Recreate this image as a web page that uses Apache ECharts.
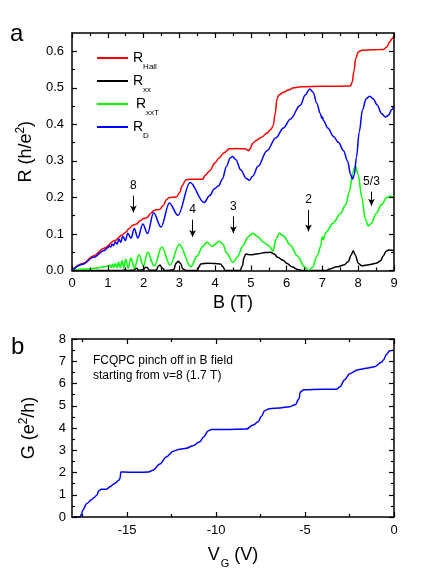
<!DOCTYPE html>
<html><head><meta charset="utf-8">
<script src="https://cdn.jsdelivr.net/npm/echarts@6/dist/echarts.min.js"></script>
<style>html,body{margin:0;padding:0;background:#fff}#c{width:436px;height:577px}</style>
</head><body><div id="c"></div>
<script>
const FONT = '"Liberation Sans", Arial, Helvetica, sans-serif';

// ---- Panel a: R vs B ----
const hallData = [[0,0],[0.3,0.019],[0.6,0.04],[0.9,0.061],[1.2,0.082],[1.4,0.097],[1.5,0.105],[1.6,0.115],[1.7,0.124],[1.8,0.127],[1.9,0.136],[2.0,0.142],[2.1,0.145],[2.2,0.157],[2.3,0.165],[2.45,0.167],[2.55,0.178],[2.65,0.195],[2.72,0.2],[2.92,0.201],[3.0,0.212],[3.08,0.232],[3.18,0.248],[3.3,0.25],[3.65,0.25],[3.72,0.26],[3.85,0.273],[4.0,0.295],[4.1,0.307],[4.25,0.322],[4.4,0.333],[4.6,0.334],[4.85,0.333],[4.93,0.328],[4.98,0.333],[5.05,0.348],[5.15,0.356],[5.3,0.365],[5.45,0.376],[5.55,0.385],[5.62,0.395],[5.68,0.43],[5.73,0.47],[5.78,0.48],[5.9,0.487],[6.05,0.494],[6.2,0.5],[6.4,0.503],[7.0,0.504],[7.78,0.505],[7.83,0.515],[7.88,0.545],[7.93,0.58],[8.0,0.598],[8.1,0.603],[8.4,0.604],[8.7,0.605],[8.8,0.612],[8.88,0.626],[8.95,0.635],[9.0,0.642]];
const rxxData = [[0,0],[1.4,0],[1.48,0.002],[1.55,0],[1.72,0.001],[1.8,0.006],[1.87,0.001],[2.0,0.002],[2.05,0.009],[2.1,0.008],[2.16,0.001],[2.35,0.001],[2.42,0.012],[2.46,0.015],[2.52,0.007],[2.6,0],[2.84,0.002],[2.91,0.02],[2.97,0.025],[3.03,0.02],[3.1,0.004],[3.2,0],[3.5,0],[3.55,0.01],[3.6,0.018],[3.8,0.02],[4.0,0.019],[4.15,0.018],[4.22,0.01],[4.28,0],[4.7,0],[4.76,0.012],[4.81,0.036],[4.86,0.045],[5.0,0.043],[5.2,0.046],[5.4,0.049],[5.55,0.05],[5.65,0.045],[5.75,0.036],[5.9,0.028],[6.0,0.02],[6.15,0.01],[6.3,0.003],[6.45,0],[7.1,0],[7.2,0.004],[7.4,0.01],[7.6,0.015],[7.72,0.024],[7.8,0.042],[7.86,0.054],[7.92,0.042],[8.0,0.02],[8.1,0.013],[8.3,0.016],[8.5,0.02],[8.62,0.026],[8.7,0.04],[8.78,0.053],[8.85,0.056],[9.0,0.055]];
const rxxTData = [[0,0],[0.4,0.004],[0.7,0.007],[0.9,0.01],[1.0,0.012],[1.05,0.015],[1.09,0.008],[1.13,0.017],[1.17,0.008],[1.21,0.019],[1.26,0.008],[1.3,0.023],[1.35,0.008],[1.4,0.027],[1.45,0.007],[1.5,0.031],[1.57,0.006],[1.65,0.034],[1.74,0.006],[1.875,0.043],[2.0,0.012],[2.11,0.05],[2.3,0.012],[2.51,0.064],[2.74,0.015],[3.0,0.072],[3.32,0.01],[3.5,0.04],[3.65,0.066],[3.77,0.077],[3.92,0.066],[4.12,0.08],[4.22,0.072],[4.32,0.048],[4.5,0.022],[4.62,0.037],[4.78,0.068],[4.92,0.092],[5.05,0.102],[5.2,0.092],[5.35,0.077],[5.5,0.068],[5.62,0.053],[5.7,0.085],[5.79,0.102],[5.9,0.096],[6.1,0.07],[6.3,0.04],[6.5,0.01],[6.61,0.0],[6.72,0.008],[6.85,0.04],[6.96,0.068],[6.98,0.088],[7.0,0.092],[7.02,0.085],[7.1,0.105],[7.3,0.13],[7.5,0.155],[7.65,0.18],[7.75,0.215],[7.85,0.268],[7.92,0.286],[8.0,0.262],[8.1,0.2],[8.2,0.14],[8.28,0.122],[8.36,0.128],[8.5,0.155],[8.65,0.18],[8.8,0.2],[8.9,0.203],[9.0,0.198]];
const rdData = [[0,0],[0.3,0.017],[0.6,0.036],[0.9,0.055],[1.0,0.062],[1.04,0.067],[1.08,0.064],[1.12,0.072],[1.16,0.068],[1.21,0.079],[1.26,0.072],[1.31,0.086],[1.36,0.077],[1.42,0.094],[1.49,0.082],[1.56,0.102],[1.65,0.088],[1.74,0.115],[1.84,0.089],[1.98,0.127],[2.11,0.101],[2.28,0.158],[2.49,0.119],[2.72,0.185],[2.96,0.151],[3.3,0.241],[3.69,0.186],[3.85,0.205],[3.98,0.224],[4.1,0.232],[4.2,0.25],[4.32,0.285],[4.42,0.308],[4.49,0.312],[4.58,0.303],[4.72,0.275],[4.87,0.252],[4.96,0.247],[5.05,0.258],[5.2,0.285],[5.45,0.328],[5.7,0.363],[5.91,0.39],[6.1,0.414],[6.38,0.452],[6.52,0.48],[6.64,0.497],[6.74,0.488],[6.84,0.458],[6.94,0.43],[6.98,0.417],[7.0,0.42],[7.03,0.41],[7.15,0.39],[7.31,0.367],[7.45,0.35],[7.59,0.328],[7.7,0.3],[7.79,0.262],[7.84,0.25],[7.89,0.262],[7.95,0.31],[8.03,0.38],[8.12,0.44],[8.22,0.47],[8.32,0.477],[8.42,0.47],[8.53,0.453],[8.65,0.43],[8.76,0.42],[8.85,0.425],[8.93,0.44],[9.0,0.45]];

const arrowB = [1.716, 3.37, 4.51, 6.61, 8.37];
const arrowTop = [0.205, 0.139, 0.148, 0.166, 0.216];
const arrowBottom = [0.159, 0.092, 0.102, 0.107, 0.177];
const arrowLabel = ['8', '4', '3', '2', '5/3'];

const bTicks = [0,1,2,3,4,5,6,7,8,9];
const bMinor = [0.5,1.5,2.5,3.5,4.5,5.5,6.5,7.5,8.5];
const rTicks = [0,0.1,0.2,0.3,0.4,0.5,0.6];
const rMinor = [0.05,0.15,0.25,0.35,0.45,0.55];

// ---- Panel b: G vs VG ----
const gData = [[-18.1,0],[-17.65,0],[-17.55,0.15],[-17.5,0.3],[-17.28,0.6],[-17.0,0.78],[-16.9,0.85],[-16.7,0.98],[-16.6,1.18],[-16.45,1.25],[-16.15,1.25],[-15.97,1.36],[-15.7,1.51],[-15.45,1.66],[-15.4,1.75],[-15.35,2.02],[-15.2,2.02],[-14.5,2.01],[-13.8,2.02],[-13.55,2.1],[-13.16,2.38],[-12.8,2.7],[-12.41,2.96],[-12.04,3.05],[-11.67,3.09],[-11.3,3.2],[-10.92,3.38],[-10.7,3.6],[-10.45,3.87],[-10.26,3.93],[-9.5,3.93],[-8.3,3.95],[-7.92,4.13],[-7.64,4.28],[-7.45,4.53],[-7.27,4.78],[-7.0,4.87],[-6.42,4.9],[-5.86,4.96],[-5.55,5.05],[-5.34,5.32],[-5.27,5.62],[-5.07,5.72],[-4.0,5.74],[-3.24,5.74],[-3.05,5.84],[-2.77,6.17],[-2.49,6.44],[-2.02,6.62],[-1.55,6.68],[-1.09,6.75],[-0.71,6.95],[-0.58,7.07],[-0.43,7.3],[-0.24,7.47],[0,7.5]];
const vTicks = [-15,-10,-5,0];
const vMinor = [-17.5,-12.5,-7.5,-2.5];
const gTicks = [0,1,2,3,4,5,6,7,8];
const gMinor = [0.5,1.5,2.5,3.5,4.5,5.5,6.5,7.5];

function axisSet(dim, gridIndex, min, max, majors, minors, extra) {
  const pos = dim === 'x' ? ['bottom','top'] : ['left','right'];
  const base = { type:'value', gridIndex, min, max, splitLine:{show:false}, z: 5 };
  const line = {show:true, onZero:false, lineStyle:{color:'#000', width:1.5}};
  const mk = (p, isMain, isMajor) => Object.assign({}, base, {
    position: p,
    axisLine: isMajor ? line : {show:false, onZero:false},
    axisTick: {show:true, inside:true, length: isMajor ? 5 : 3, customValues: isMajor ? majors : minors, lineStyle:{color:'#000', width:1.2}},
    axisLabel: (isMain && isMajor) ? Object.assign({show:true, customValues: majors, color:'#000', fontSize:13, fontFamily:FONT}, extra.label) : {show:false}
  }, (isMain && isMajor) ? extra.name : {});
  return [mk(pos[0], true, true), mk(pos[1], false, true), mk(pos[0], true, false), mk(pos[1], false, false)];
}

const nameRich = {
  a:{fontSize:18, fontFamily:FONT, color:'#000', lineHeight:20, verticalAlign:'bottom'},
  p:{fontSize:12, fontFamily:FONT, color:'#000', lineHeight:12, verticalAlign:'top', padding:[0,0,8,0]}
};

const xAxes = [].concat(
  axisSet('x', 0, 0, 9, bTicks, bMinor, {label:{margin:6}, name:{name:'B (T)', nameLocation:'middle', nameGap:24, nameTextStyle:{fontSize:18, fontFamily:FONT, color:'#000'}}}),
  axisSet('x', 1, -18.1, 0, vTicks, vMinor, {label:{margin:7}, name:{name:'{a|V}{b|G}{a| (V)}', nameLocation:'middle', nameGap:29, nameTextStyle:{color:'#000', rich:{a:{fontSize:18, fontFamily:FONT, color:'#000', lineHeight:18, verticalAlign:'top'}, b:{fontSize:11, fontFamily:FONT, color:'#000', lineHeight:11, verticalAlign:'top', padding:[12,0,0,1]}}}}})
);
const yAxes = [].concat(
  axisSet('y', 0, 0, 0.65, rTicks, rMinor, {label:{margin:8, formatter: v => v.toFixed(1)}, name:{name:'{a|R (h/e}{p|2}{a|)}', nameLocation:'middle', nameGap:34, nameTextStyle:{color:'#000', rich:nameRich}}}),
  axisSet('y', 1, 0, 8, gTicks, gMinor, {label:{margin:6}, name:{name:'{a|G (e}{p|2}{a|/h)}', nameLocation:'middle', nameGap:34, nameTextStyle:{color:'#000', rich:nameRich}}})
);

const legendText = {
  'R_Hall': '{r|R}{s|Hall}',
  'R_xx': '{r|R}{s|xx}',
  'R_xxT': '{r2|R}{s|xxT}',
  'R_D': '{r|R}{s|D}'
};

function lineSeries(name, data, color, xi, yi) {
  return { name, type:'line', data, xAxisIndex: xi, yAxisIndex: yi, showSymbol:false, symbol:'none',
    smooth:0.35, smoothMonotone:'x', lineStyle:{color, width:1.5}, itemStyle:{color}, animation:false, silent:true, clip:true };
}

const rxx = lineSeries('R_xx', rxxData, '#000000', 0, 0);
rxx.markLine = {
  silent:true, animation:false, symbol:['none','arrow'], symbolSize:[5,7],
  lineStyle:{color:'#000', width:1, type:'solid'},
  label:{show:true, position:'start', distance:4, color:'#000', fontSize:12, fontFamily:FONT, formatter: p => p.name},
  emphasis:{disabled:true},
  data: arrowB.map((b, i) => [{name: arrowLabel[i], coord:[b, arrowTop[i]]}, {name: arrowLabel[i], coord:[b, arrowBottom[i]]}])
};

const option = {
  backgroundColor:'#fff',
  animation:false,
  grid:[
    {left:72, right:42, top:33, height:237.5},
    {left:72, right:42, top:339, height:178}
  ],
  xAxis: xAxes,
  yAxis: yAxes,
  legend: {
    data:['R_Hall','R_xx','R_xxT','R_D'], orient:'vertical', left:92, top:46,
    itemWidth:31, itemHeight:2, icon:'rect', itemGap:3, selectedMode:false,
    formatter: n => legendText[n],
    textStyle:{ rich:{
      r:{fontSize:14, lineHeight:14, fontFamily:FONT, color:'#000', verticalAlign:'top'},
      r2:{fontSize:14, lineHeight:14, fontFamily:FONT, color:'#000', verticalAlign:'top', padding:[0,0,0,3]},
      s:{fontSize:8, lineHeight:8, fontFamily:FONT, color:'#000', verticalAlign:'top', padding:[12,0,0,0]}
    }}
  },
  graphic:[
    {type:'text', left:10, top:22, style:{text:'a', fontSize:24, fontFamily:FONT, fill:'#000'}},
    {type:'text', left:11, top:335, style:{text:'b', fontSize:24, fontFamily:FONT, fill:'#000'}},
    {type:'text', left:93, top:355, style:{text:'FCQPC pinch off in B field', fontSize:12, fontFamily:FONT, fill:'#000'}},
    {type:'text', left:93, top:370, style:{text:'starting from ν=8 (1.7 T)', fontSize:12, fontFamily:FONT, fill:'#000'}}
  ],
  series:[
    lineSeries('R_Hall', hallData, '#ff0000', 0, 0),
    rxx,
    lineSeries('R_xxT', rxxTData, '#00ff00', 0, 0),
    lineSeries('R_D', rdData, '#0000ff', 0, 0),
    lineSeries('G', gData, '#0000ff', 4, 4)
  ]
};

const chart = echarts.init(document.getElementById('c'), null, {renderer:'canvas'});
chart.setOption(option);
</script>
</body></html>
